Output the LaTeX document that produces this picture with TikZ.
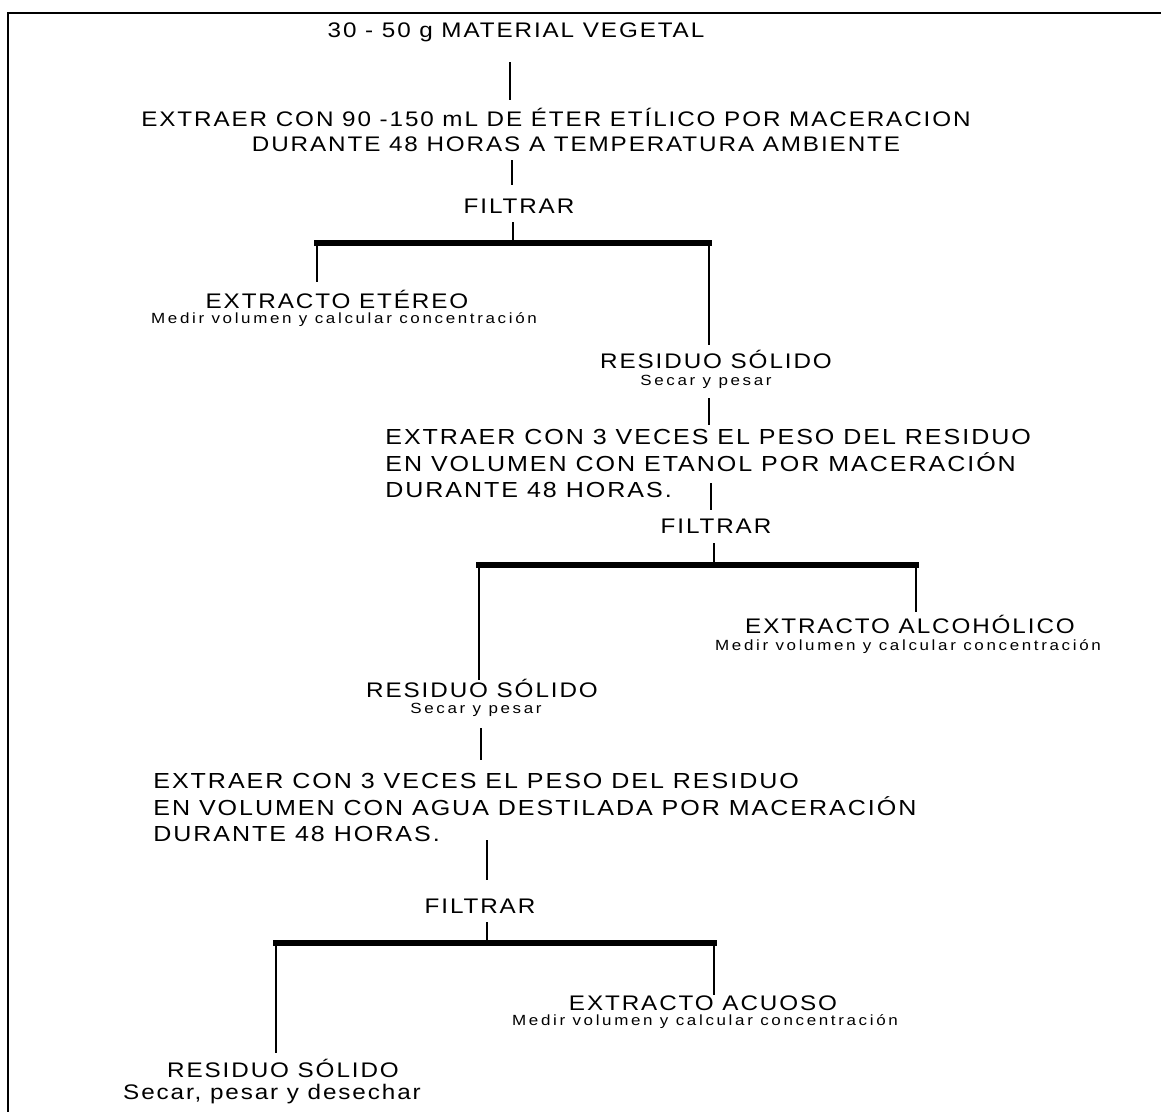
\documentclass[tikz,border=0pt]{standalone}
\usepackage{fontspec}
\setmainfont{Liberation Sans}
\newfontfamily\grande[FakeStretch=1.15, LetterSpace=9]{Liberation Sans}
\newfontfamily\chica[FakeStretch=1.15, LetterSpace=18]{Liberation Sans}
\begin{document}
\begin{tikzpicture}
		[x=0.02cm, y=-0.02cm,
		paso/.style={inner sep=0pt, anchor=base,
			font=\grande\fontsize{12}{14.8}\selectfont},
		bloque/.style={paso, align=left, anchor=base west,
			font=\grande\fontsize{12.4}{14.8}\selectfont},
		nota/.style={inner sep=0pt, anchor=base,
			font=\chica\fontsize{8.4}{10}\selectfont},
		linea/.style={line width=1pt},
		barra/.style={line width=3.6pt, line cap=rect}]
		\useasboundingbox (0,0) rectangle (1161,1112);
		\draw[line width=1.5pt] (8,1112) -- (8,13) -- (1161,13);
		\node[paso] (material) at (516,37) {30 - 50 g MATERIAL VEGETAL};
		\node[paso, align=center, font=\grande\fontsize{12}{13.7}\selectfont] (eter) at (556,151)
			{EXTRAER CON 90 -150 mL DE ÉTER ETÍLICO POR MACERACION\\\hspace*{0.8cm}DURANTE 48 HORAS A TEMPERATURA AMBIENTE};
		\node[paso] (filtrar1) at (519,213) {FILTRAR};
		\node[paso] (etereo) at (337,308) {EXTRACTO ETÉREO};
		\node[nota] (etereo-n) at (344,323) {Medir volumen y calcular concentración};
		\node[paso] (residuo1) at (716,368) {RESIDUO SÓLIDO};
		\node[nota] (residuo1-n) at (706,385) {Secar y pesar};
		\node[bloque] (etanol) at (385,497)
			{EXTRAER CON 3 VECES EL PESO DEL RESIDUO\\EN VOLUMEN CON ETANOL POR MACERACIÓN\\DURANTE 48 HORAS.};
		\node[paso] (filtrar2) at (716,533) {FILTRAR};
		\node[paso] (alcoholico) at (910,633) {EXTRACTO ALCOHÓLICO};
		\node[nota] (alcoholico-n) at (908,650) {Medir volumen y calcular concentración};
		\node[paso] (residuo2) at (482,697) {RESIDUO SÓLIDO};
		\node[nota] (residuo2-n) at (476,713) {Secar y pesar};
		\node[bloque] (agua) at (153,841)
			{EXTRAER CON 3 VECES EL PESO DEL RESIDUO\\EN VOLUMEN CON AGUA DESTILADA POR MACERACIÓN\\DURANTE 48 HORAS.};
		\node[paso] (filtrar3) at (480,913) {FILTRAR};
		\node[paso] (acuoso) at (703,1010) {EXTRACTO ACUOSO};
		\node[nota] (acuoso-n) at (705,1025) {Medir volumen y calcular concentración};
		\node[paso] (residuo3) at (283,1077) {RESIDUO SÓLIDO};
		\node[paso] (residuo3-n) at (272,1099) {Secar, pesar y desechar};
		\coordinate (m1) at (510,62); \coordinate (m2) at (510,100);
		\coordinate (e1) at (512,160); \coordinate (e2) at (512,185);
		\coordinate (f1) at (513,222); \coordinate (b1) at (513,243);
		\coordinate (b1l) at (317,243); \coordinate (b1r) at (709,243);
		\coordinate (etereo-top) at (317,282); \coordinate (r1-top) at (709,345);
		\coordinate (r1a) at (709,398); \coordinate (r1b) at (709,425);
		\coordinate (et1) at (711,483); \coordinate (et2) at (711,510);
		\coordinate (f2) at (714,543); \coordinate (b2) at (714,565);
		\coordinate (b2l) at (479,565); \coordinate (b2r) at (916,565);
		\coordinate (alc-top) at (916,612); \coordinate (r2-top) at (479,680);
		\coordinate (r2a) at (481,728); \coordinate (r2b) at (481,760);
		\coordinate (ag1) at (487,840); \coordinate (ag2) at (487,880);
		\coordinate (f3) at (487,922); \coordinate (b3) at (487,943);
		\coordinate (b3l) at (276,943); \coordinate (b3r) at (714,943);
		\coordinate (acu-top) at (714,995); \coordinate (r3-top) at (276,1053);
		\draw[linea] (m1) -- (m2);
		\draw[linea] (e1) -- (e2);
		\draw[linea] (f1) -- (b1);
		\draw[barra] (b1l) -- (b1r);
		\draw[linea] (b1l) -- (etereo-top);
		\draw[linea] (b1r) -- (r1-top);
		\draw[linea] (r1a) -- (r1b);
		\draw[linea] (et1) -- (et2);
		\draw[linea] (f2) -- (b2);
		\draw[barra] (b2l) -- (b2r);
		\draw[linea] (b2r) -- (alc-top);
		\draw[linea] (b2l) -- (r2-top);
		\draw[linea] (r2a) -- (r2b);
		\draw[linea] (ag1) -- (ag2);
		\draw[linea] (f3) -- (b3);
		\draw[barra] (b3l) -- (b3r);
		\draw[linea] (b3r) -- (acu-top);
		\draw[linea] (b3l) -- (r3-top);
	\end{tikzpicture}
\end{document}
